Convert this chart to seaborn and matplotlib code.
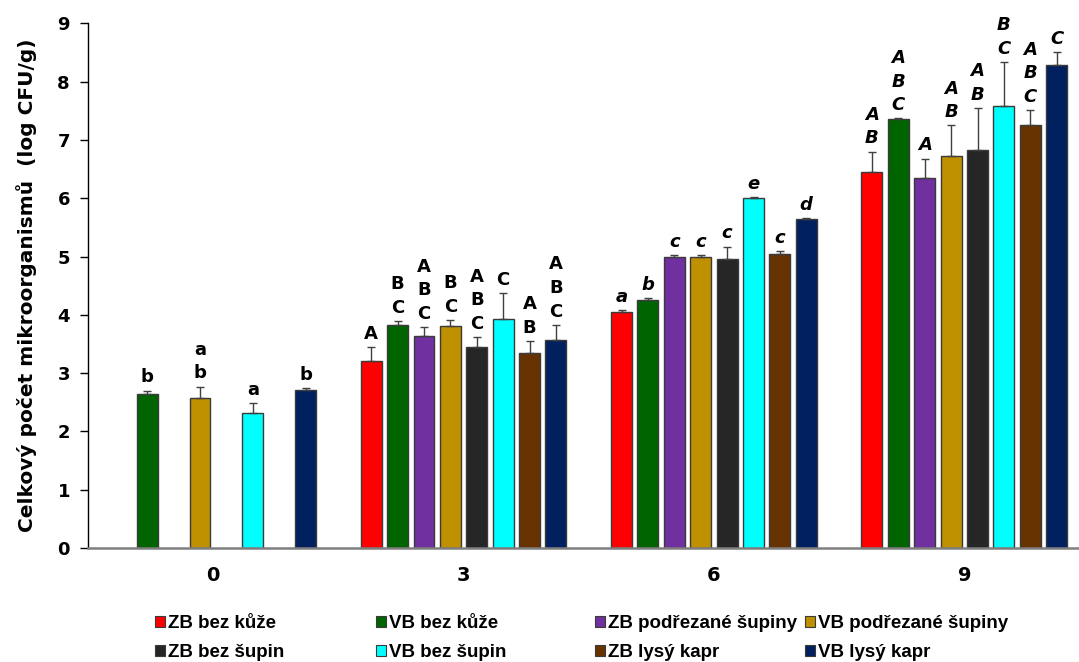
import numpy as np
import pandas as pd
import seaborn as sns
import matplotlib.pyplot as plt
from matplotlib.patches import Patch

# days of storage and the 8 sample types
days = ['0', '3', '6', '9']
series = ['ZB bez kůže', 'VB bez kůže', 'ZB podřezané šupiny', 'VB podřezané šupiny',
          'ZB bez šupin', 'VB bez šupin', 'ZB lysý kapr', 'VB lysý kapr']
colors = ['#FF0000', '#006400', '#7030A0', '#BF9000',
          '#262626', '#00FFFF', '#663300', '#002060']

# means (log CFU/g), one list per day, in series order (nan = not measured)
means_d0 = [np.nan, 2.64, np.nan, 2.57, np.nan, 2.32, np.nan, 2.71]
means_d3 = [3.21, 3.83, 3.64, 3.81, 3.45, 3.92, 3.34, 3.56]
means_d6 = [4.04, 4.26, 5.00, 5.00, 4.96, 6.00, 5.04, 5.64]
means_d9 = [6.45, 7.35, 6.34, 6.72, 6.83, 7.58, 7.26, 8.28]

# standard deviations
err_d0 = [np.nan, 0.06, np.nan, 0.20, np.nan, 0.17, np.nan, 0.04]
err_d3 = [0.24, 0.06, 0.15, 0.10, 0.17, 0.45, 0.21, 0.27]
err_d6 = [0.04, 0.02, 0.02, 0.02, 0.21, 0.02, 0.05, 0.02]
err_d9 = [0.35, 0.02, 0.34, 0.53, 0.72, 0.76, 0.25, 0.23]

# significance letters
let_d0 = ['', 'b', '', 'a\nb', '', 'a', '', 'b']
let_d3 = ['A', 'B\nC', 'A\nB\nC', 'B\nC', 'A\nB\nC', 'C', 'A\nB', 'A\nB\nC']
let_d6 = ['a', 'b', 'c', 'c', 'c', 'e', 'c', 'd']
let_d9 = ['A\nB', 'A\nB\nC', 'A', 'A\nB', 'A\nB', 'B\nC', 'A\nB\nC', 'C']

means = [means_d0, means_d3, means_d6, means_d9]
errs = [err_d0, err_d3, err_d6, err_d9]
letters = [let_d0, let_d3, let_d6, let_d9]

rows = []
for d, day in enumerate(days):
    for s, name in enumerate(series):
        rows.append({'day': day, 'typ': name, 'val': means[d][s]})
df = pd.DataFrame(rows).dropna()

sns.set_style('white')
plt.rcParams['font.family'] = ['DejaVu Sans']
plt.rcParams['text.color'] = 'black'
plt.rcParams['xtick.color'] = 'black'
plt.rcParams['ytick.color'] = 'black'

fig = plt.figure(figsize=(10.79, 6.62), dpi=100)
ax = fig.add_axes([88 / 1079, 114 / 662, (1089.5 - 88) / 1079, (548 - 23.3) / 662])

sns.barplot(data=df, x='day', y='val', hue='typ', order=days, hue_order=series,
            palette=colors, errorbar=None, width=0.843, gap=0.205,
            edgecolor='#3a3a3a', linewidth=1, saturation=1, ax=ax, legend=False)

# error bars (upper only) and letters
bar_groups = list(ax.containers)
for s, cont in enumerate(bar_groups):
    for bar in cont.patches:
        xc = bar.get_x() + bar.get_width() / 2
        d = int(round(xc))
        h = bar.get_height()
        e = errs[d][s]
        ax.errorbar(xc, h, yerr=[[0], [e]], fmt='none', ecolor='#404040',
                    elinewidth=1, capsize=3, capthick=1)
        style = 'italic' if d >= 2 else 'normal'
        ax.annotate(letters[d][s], (xc, h + e), xytext=(0, 3), textcoords='offset points',
                    ha='center', va='bottom', fontsize=13, fontweight='bold',
                    fontstyle=style, color='black', linespacing=1.4,
                    annotation_clip=False)

ax.set_ylim(0, 9)
ax.set_xlim(-0.5, 3.5)
ax.set_yticks(range(10))
ax.set_xlabel('')
ax.set_ylabel('')
for side in ['top', 'right']:
    ax.spines[side].set_visible(False)
ax.spines['left'].set_color('black')
ax.spines['left'].set_linewidth(1)
ax.spines['bottom'].set_color('#7f7f7f')
ax.spines['bottom'].set_linewidth(1.8)
ax.tick_params(axis='y', direction='out', length=6, width=1, color='black',
               labelcolor='black', labelsize=13, pad=7, left=True)
ax.tick_params(axis='x', length=0, labelcolor='black', labelsize=14, pad=13)
for t in ax.get_xticklabels() + ax.get_yticklabels():
    t.set_fontweight('bold')

fig.text(27 / 1079, 1 - 285.5 / 662, 'Celkový počet mikroorganismů  (log CFU/g)',
         rotation=90, ha='center', va='center', fontsize=14.5, fontweight='bold',
         color='black')

# legend: 4 columns, 2 rows
col_x = [155, 376, 595, 805]
for c in range(4):
    hs = [Patch(facecolor=colors[c], edgecolor='#3a3a3a', linewidth=0.8),
          Patch(facecolor=colors[c + 4], edgecolor='#3a3a3a', linewidth=0.8)]
    fig.legend(hs, [series[c], series[c + 4]], loc='upper left',
               bbox_to_anchor=(col_x[c] / 1079, 1 - 615 / 662), frameon=False,
               borderpad=0, borderaxespad=0, handlelength=0.55, handleheight=0.55,
               handletextpad=0.15, labelspacing=0.65, labelcolor='black',
               prop={'family': ['Liberation Sans'], 'weight': 'bold', 'size': 13.5})

fig.savefig('out.png', dpi=100)
